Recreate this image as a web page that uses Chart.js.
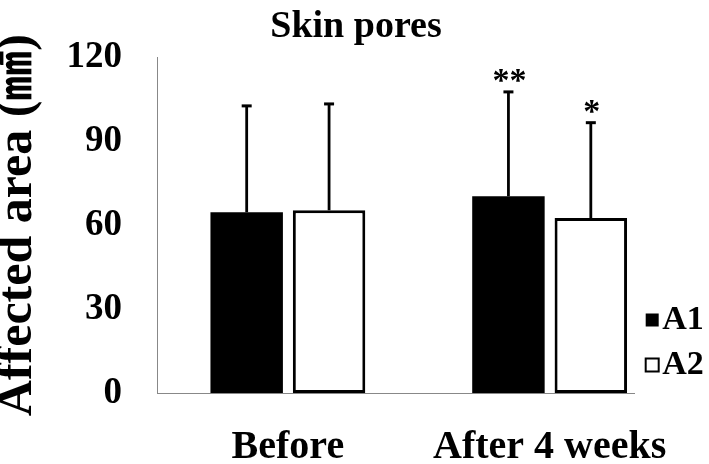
<!DOCTYPE html>
<html>
<head>
<meta charset="utf-8">
<script src="https://cdn.jsdelivr.net/npm/chart.js@4/dist/chart.umd.min.js"></script>
<style>
html, body { margin: 0; padding: 0; background: #fff; }
#wrap { width: 709px; height: 464px; }
</style>
</head>
<body>
<div id="wrap"><canvas id="c" width="709" height="464"></canvas></div>
<script>
// ---- data ----
const categories = ['Before', 'After 4 weeks'];
const seriesNames = ['A1', 'A2'];
const a1Mean = [64.6, 70.3];
const a2Mean = [65.3, 62.5];
const a1SD = [38.0, 37.3];
const a2SD = [38.0, 34.1];
const a1Sig = ['', '**'];
const a2Sig = ['', '*'];
const yTicks = [0, 30, 60, 90, 120];
const chartTitle = 'Skin pores';
const yTitle = 'Affected area (\u339F)';

const SERIF = '"Liberation Serif", "Noto Sans CJK JP", serif';

const errorBarPlugin = {
  id: 'errorBars',
  afterDatasetsDraw(chart) {
    const ctx = chart.ctx;
    const yScale = chart.scales.y;
    chart.data.datasets.forEach((ds, di) => {
      const meta = chart.getDatasetMeta(di);
      meta.data.forEach((bar, i) => {
        const mean = ds.data[i].y;
        const sd = ds.errors[i];
        const yTop = yScale.getPixelForValue(mean + sd);
        ctx.save();
        ctx.strokeStyle = '#000';
        ctx.lineCap = 'butt';
        ctx.lineWidth = 2.8;
        ctx.beginPath();
        ctx.moveTo(bar.x, bar.y);
        ctx.lineTo(bar.x, yTop);
        ctx.stroke();
        ctx.lineWidth = 3;
        ctx.beginPath();
        ctx.moveTo(bar.x - 5, yTop);
        ctx.lineTo(bar.x + 5, yTop);
        ctx.stroke();
        const sig = ds.sig[i];
        if (sig) {
          ctx.fillStyle = '#000';
          ctx.font = 'bold 34px ' + SERIF;
          ctx.textAlign = 'center';
          ctx.textBaseline = 'alphabetic';
          ctx.fillText(sig, bar.x + 1, yTop - 1);
        }
        ctx.restore();
      });
    });
  }
};

const chart = new Chart(document.getElementById('c'), {
  type: 'bar',
  data: {
    datasets: [
      {
        label: seriesNames[0],
        data: categories.map((c, i) => ({ x: i, y: a1Mean[i] })),
        backgroundColor: '#000',
        borderColor: '#000',
        borderWidth: 0,
        borderSkipped: false,
        errors: a1SD,
        sig: a1Sig
      },
      {
        label: seriesNames[1],
        data: categories.map((c, i) => ({ x: i, y: a2Mean[i] })),
        backgroundColor: '#fff',
        borderColor: '#000',
        borderWidth: 3,
        borderSkipped: false,
        errors: a2SD,
        sig: a2Sig
      }
    ]
  },
  options: {
    responsive: false,
    animation: false,
    devicePixelRatio: 1,
    categoryPercentage: 0.6295,
    barPercentage: 0.8795,
    layout: { padding: { left: 0, right: -3, top: 0, bottom: 0 } },
    plugins: {
      tooltip: { enabled: false },
      title: {
        display: true,
        text: chartTitle,
        color: '#000',
        font: { family: SERIF, size: 38, weight: 'bold', lineHeight: 1.2 },
        padding: { top: 2, bottom: 7.4 }
      },
      legend: {
        position: 'right',
        align: 'end',
        fullSize: false,
        maxWidth: 69,
        labels: {
          boxWidth: 13,
          boxHeight: 13,
          padding: 11,
          color: '#000',
          textAlign: 'right',
          font: { family: SERIF, size: 34, weight: 'bold' },
          generateLabels(chart) {
            const items = Chart.defaults.plugins.legend.labels.generateLabels(chart);
            items.forEach(it => { if (it.lineWidth) it.lineWidth = 2; });
            return items;
          }
        }
      }
    },
    scales: {
      x: {
        type: 'linear',
        min: -0.5,
        max: 1.325,
        offset: false,
        grid: { display: false, drawTicks: false },
        border: { display: true, color: '#888', width: 1 },
        afterBuildTicks(scale) { scale.ticks = categories.map((c, i) => ({ value: i })); },
        afterFit(scale) { scale.height = 71; },
        ticks: {
          autoSkip: false,
          maxRotation: 0,
          color: '#000',
          padding: 31,
          font: { family: SERIF, size: 40, weight: 'bold' },
          callback: (v) => categories[v]
        }
      },
      y: {
        min: 0,
        max: 120,
        grid: { display: false, drawTicks: false },
        border: { display: true, color: '#888', width: 1 },
        afterBuildTicks(scale) { scale.ticks = yTicks.map(v => ({ value: v })); },
        afterFit(scale) { scale.width = 157; },
        ticks: {
          color: '#000',
          padding: 35,
          font: { family: SERIF, size: 37, weight: 'bold' }
        },
        title: {
          display: true,
          text: yTitle,
          color: '#000',
          font: { family: SERIF, size: 50, weight: 'bold', lineHeight: 0.72 },
          padding: { top: 0, bottom: 0 }
        }
      }
    }
  },
  plugins: [errorBarPlugin]
});
</script>
</body>
</html>
